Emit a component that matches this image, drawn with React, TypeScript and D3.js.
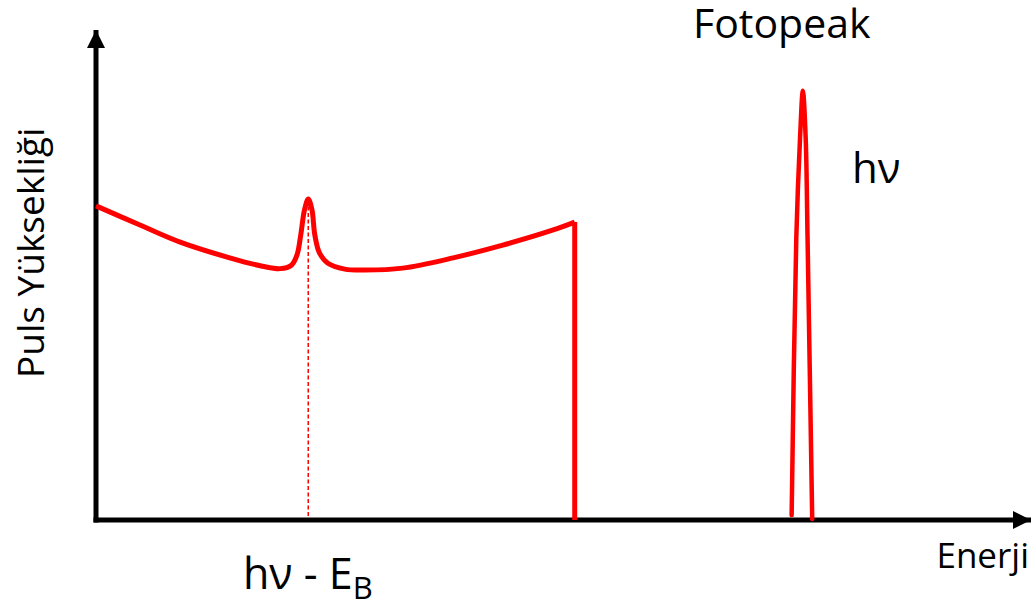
import * as d3 from "d3";
import { useRef, useEffect } from "react";

// Compton continuum (energy, pulse height) – arbitrary units 0..100
const comptonEnergy = [0, 4.7, 9.0, 14.3, 17.8, 19.7, 20.9, 21.5, 21.9, 22.3, 22.7, 23.1, 23.4, 23.9, 24.8, 26.6, 28.8, 32.8, 38.2, 43.5, 48.9, 51.2];
const comptonHeight = [64.1, 60.2, 56.7, 53.5, 51.8, 51.3, 52.0, 54.1, 58.2, 63.3, 65.5, 63.3, 58.2, 54.5, 52.4, 51.2, 51.0, 51.4, 53.5, 56.1, 59.2, 60.8];

// Compton edge
const edgeEnergy = [51.2, 51.2];
const edgeHeight = [60.8, 0];

// backscatter peak marker (hν - E_B)
const backscatterEnergy = 22.7;
const backscatterTop = 64.0;

// photopeak
const photoEnergy = [74.4, 74.9, 75.3, 75.6, 75.9, 76.1, 76.6];
const photoHeight = [1.0, 57.7, 78.0, 87.6, 78.0, 57.7, 0.2];

const App = () => {
	const chartRef = useRef(null);

	const width = 1035;
	const height = 605;

	const margin = { left: 96, top: 30, bottom: 85 };
	const plotWidth = 935;

	useEffect(() => {
		const svg = d3.select(chartRef.current);
		svg.selectAll("*").remove();

		const scaleX = d3.scaleLinear().domain([0, 100]).range([margin.left, margin.left + plotWidth]);
		const scaleY = d3.scaleLinear().domain([0, 100]).range([height - margin.bottom, margin.top]);

		const font = "'Open Sans', sans-serif";

		// оси со стрелками
		const defs = svg.append("defs");
		defs.append("marker")
			.attr("id", "arrow")
			.attr("viewBox", "0 0 10 10")
			.attr("refX", 10)
			.attr("refY", 5)
			.attr("markerWidth", 3.6)
			.attr("markerHeight", 3.6)
			.attr("markerUnits", "strokeWidth")
			.attr("orient", "auto")
			.append("path")
			.attr("d", "M0,0 L10,5 L0,10 Z")
			.style("fill", "#000");

		svg.append("line")
			.attr("x1", scaleX(0))
			.attr("y1", scaleY(0) + 2.5)
			.attr("x2", scaleX(0))
			.attr("y2", scaleY(100))
			.attr("stroke", "#000")
			.attr("stroke-width", 5)
			.attr("marker-end", "url(#arrow)");

		svg.append("line")
			.attr("x1", scaleX(0) - 2.5)
			.attr("y1", scaleY(0))
			.attr("x2", scaleX(100))
			.attr("y2", scaleY(0))
			.attr("stroke", "#000")
			.attr("stroke-width", 5)
			.attr("marker-end", "url(#arrow)");

		// пунктир
		svg.append("line")
			.attr("x1", scaleX(backscatterEnergy))
			.attr("y1", scaleY(backscatterTop))
			.attr("x2", scaleX(backscatterEnergy))
			.attr("y2", scaleY(0) - 2)
			.attr("stroke", "red")
			.attr("stroke-width", 1.5)
			.attr("stroke-dasharray", "4,2.5");

		const smooth = d3.line()
			.x(d => scaleX(d[0]))
			.y(d => scaleY(d[1]))
			.curve(d3.curveCatmullRom.alpha(0.5));

		svg.append("path")
			.datum(comptonEnergy.map((e, i) => [e, comptonHeight[i]]))
			.attr("d", smooth)
			.attr("fill", "none")
			.attr("stroke", "red")
			.attr("stroke-width", 5)
			.attr("stroke-linejoin", "round");

		svg.append("path")
			.datum(edgeEnergy.map((e, i) => [e, edgeHeight[i]]))
			.attr("d", d3.line().x(d => scaleX(d[0])).y(d => scaleY(d[1])))
			.attr("fill", "none")
			.attr("stroke", "red")
			.attr("stroke-width", 5);

		svg.append("path")
			.datum(photoEnergy.map((e, i) => [e, photoHeight[i]]))
			.attr("d", smooth)
			.attr("fill", "none")
			.attr("stroke", "red")
			.attr("stroke-width", 4.5)
			.attr("stroke-linejoin", "round")
			.attr("stroke-linecap", "round");

		// подписи
		svg.append("text")
			.attr("x", 693)
			.attr("y", 38)
			.style("font-family", font)
			.style("font-size", "41px")
			.text("Fotopeak");

		svg.append("text")
			.attr("x", 852)
			.attr("y", 183)
			.style("font-family", font)
			.style("font-size", "42px")
			.text("hν");

		svg.append("text")
			.attr("x", 1029)
			.attr("y", 568)
			.attr("text-anchor", "end")
			.style("font-family", font)
			.style("font-size", "35px")
			.text("Enerji");

		const eb = svg.append("text")
			.attr("x", 243)
			.attr("y", 589)
			.style("font-family", font)
			.style("font-size", "43px");
		eb.append("tspan").text("hν - E");
		eb.append("tspan")
			.attr("dy", 10)
			.style("font-size", "31px")
			.text("B");

		svg.append("text")
			.attr("transform", "translate(44,378) rotate(-90)")
			.style("font-family", font)
			.style("font-size", "37px")
			.text("Puls Yüksekliği");
	}, []);

	return (
		<svg ref={chartRef} width={width} height={height}
			style={{ position: "absolute", left: 0, top: 0, background: "#fff" }}></svg>
	);
};

export default App;
